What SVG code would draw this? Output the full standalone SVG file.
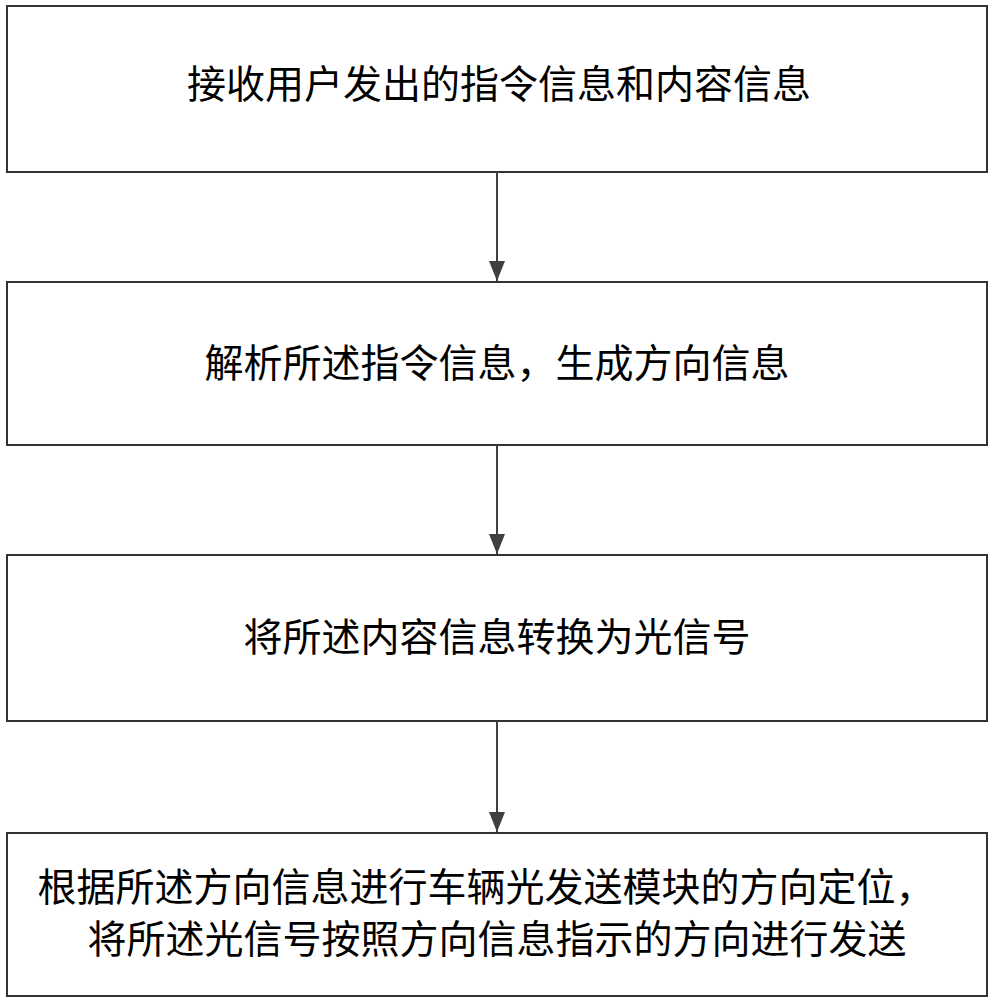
<svg xmlns="http://www.w3.org/2000/svg" width="995" height="1000" viewBox="0 0 995 1000">
<style>
.b{fill:#fff;stroke:#333;stroke-width:2}
.t{font-family:"Liberation Serif","Noto Sans CJK SC",serif;font-size:39px;fill:#000;text-anchor:middle}
.c{stroke:#404040;stroke-width:2;fill:none}
</style>
<defs><marker id="a" viewBox="0 0 10 10" refX="10" refY="5" markerWidth="20" markerHeight="20" markerUnits="userSpaceOnUse" orient="auto"><path d="M0,1L10,5L0,9z" fill="#404040"/></marker></defs>
<rect width="995" height="1000" fill="#fff"/>
<g id="n1"><rect class="b" x="7" y="6" width="980" height="166"/><text class="t" x="499" y="98">接收用户发出的指令信息和内容信息</text></g>
<g id="n2"><rect class="b" x="7" y="282" width="980" height="163"/><text class="t" x="497" y="377">解析所述指令信息，生成方向信息</text></g>
<g id="n3"><rect class="b" x="7" y="555" width="980" height="166"/><text class="t" x="497" y="651">将所述内容信息转换为光信号</text></g>
<g id="n4"><rect class="b" x="7" y="833" width="980" height="163"/><text class="t" x="486" y="901">根据所述方向信息进行车辆光发送模块的方向定位，</text><text class="t" x="497" y="953">将所述光信号按照方向信息指示的方向进行发送</text></g>
<g id="connectors">
<line class="c" x1="497" y1="172" x2="497" y2="281" marker-end="url(#a)"/>
<line class="c" x1="497" y1="445" x2="497" y2="554" marker-end="url(#a)"/>
<line class="c" x1="497" y1="721" x2="497" y2="832" marker-end="url(#a)"/>
</g>
</svg>
